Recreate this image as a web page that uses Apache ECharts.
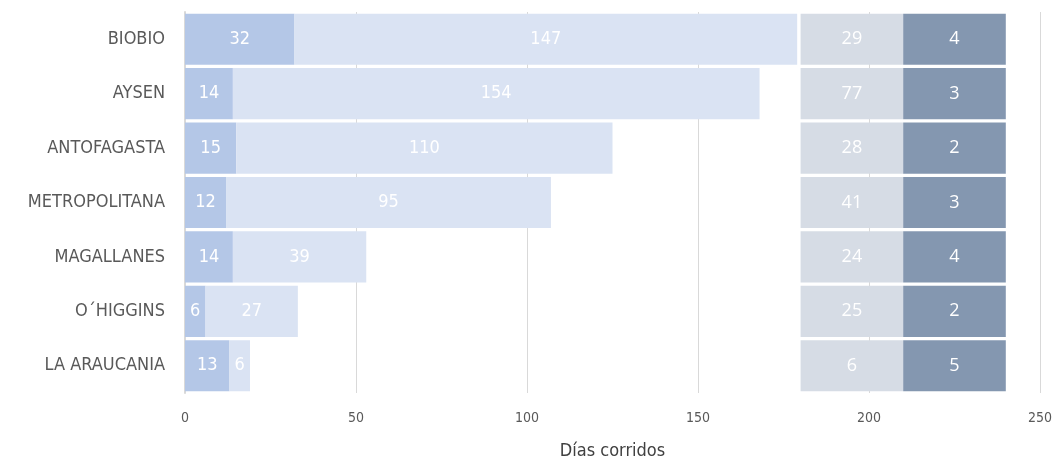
<!DOCTYPE html>
<html><head><meta charset="utf-8">
<script src="https://cdn.jsdelivr.net/npm/echarts@6/dist/echarts.min.js"></script>
<style>html,body{margin:0;padding:0;background:#fff}#c{width:1056px;height:460px}</style>
</head><body><div id="c"></div>
<script>
const categories = ['BIOBIO','AYSEN','ANTOFAGASTA','METROPOLITANA','MAGALLANES','O´HIGGINS','LA ARAUCANIA'];
const serieA = [32,14,15,12,14,6,13];
const serieB = [147,154,110,95,39,27,6];
const serieC = [29,77,28,41,24,25,6];
const serieD = [4,3,2,3,4,2,5];
const xTicks = [0,50,100,150,200,250];

const PANEL_START = 180, PANEL_W = 30;
const spacer = serieA.map((v,i)=>PANEL_START - v - serieB[i]);
const narrow = "'Liberation Sans Narrow','DejaVu Sans Condensed',sans-serif";
const lab = {show:true,position:'inside',color:'#fff',fontSize:18,fontFamily:narrow};
const chart = echarts.init(document.getElementById('c'));
chart.setOption({
  animation:false,
  grid:{left:185,right:16,top:12,bottom:67,containLabel:false,outerBoundsMode:'none'},
  xAxis:{type:'value',min:xTicks[0],max:xTicks[xTicks.length-1],interval:50,
    name:'Días corridos',nameLocation:'middle',nameGap:49,
    nameTextStyle:{color:'#404040',fontSize:18,fontFamily:narrow},
    axisLine:{show:false},axisTick:{show:false},
    axisLabel:{color:'#595959',fontSize:14,fontFamily:narrow,margin:18},
    splitLine:{lineStyle:{color:'#d9d9d9',width:1}}},
  yAxis:{type:'category',data:categories,inverse:true,
    axisLine:{show:true,lineStyle:{color:'#d9d9d9',width:2}},axisTick:{show:false},
    axisLabel:{color:'#595959',fontSize:18,fontFamily:narrow,margin:20}},
  series:[
    {type:'bar',stack:'s',data:serieA,barCategoryGap:'6%',itemStyle:{color:'#b4c7e7'},label:lab},
    {type:'bar',stack:'s',data:serieB,itemStyle:{color:'#dae3f3'},label:lab},
    {type:'bar',stack:'s',data:spacer,itemStyle:{color:'rgba(0,0,0,0)'},label:{show:false},silent:true},
    {type:'bar',stack:'s',data:serieC.map(()=>PANEL_W),itemStyle:{color:'#d6dce5'},
      label:{show:true,position:'inside',color:'#fff',fontSize:18,fontFamily:"'Open Sans',sans-serif",
        formatter:p=>serieC[p.dataIndex]}},
    {type:'bar',stack:'s',data:serieD.map(()=>PANEL_W),itemStyle:{color:'#8497b0'},
      label:{show:true,position:'inside',color:'#fff',fontSize:18,fontFamily:"'Open Sans',sans-serif",
        formatter:p=>serieD[p.dataIndex]}}
  ]
});
</script></body></html>
